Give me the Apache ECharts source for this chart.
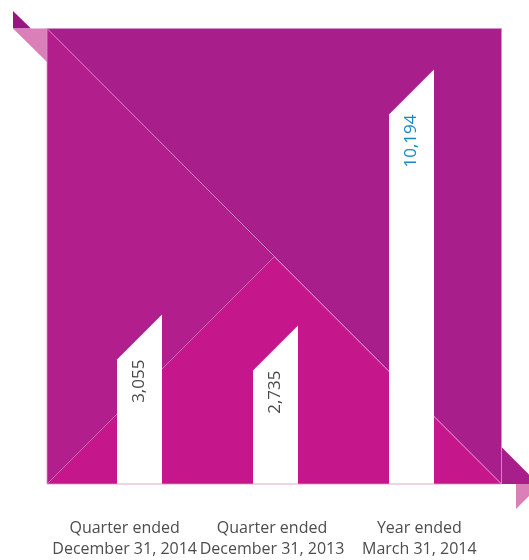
<!DOCTYPE html>
<html>
<head>
<meta charset="utf-8">
<script src="https://cdn.jsdelivr.net/npm/echarts@6/dist/echarts.min.js"></script>
<style>
html, body { margin: 0; padding: 0; background: #fff; }
#chart { width: 529px; height: 560px; }
</style>
</head>
<body>
<div id="chart"></div>
<script>
// data
var categories = ['Quarter ended\nDecember 31, 2014', 'Quarter ended\nDecember 31, 2013', 'Year ended\nMarch 31, 2014'];
var values = [3055, 2735, 10194];
var valueLabels = ['3,055', '2,735', '10,194'];

// square background bounds (px)
var L = 47, T = 28.5, R = 501.5, B = 484;
var edge = '#DC8EC3';

function renderBar(params, api) {
    var cs = params.coordSys;
    var pt = api.coord([api.value(0), api.value(1)]);
    var cx = pt[0];
    var hw = 22.5;
    var base = cs.y + cs.height;
    var leftTop = pt[1] + hw, rightTop = pt[1] - hw;
    var idx = params.dataIndex;
    return {
        type: 'group',
        children: [{
            type: 'polygon',
            shape: { points: [[cx - hw, base], [cx - hw, leftTop], [cx + hw, rightTop], [cx + hw, base]] },
            style: { fill: '#ffffff' }
        }, {
            type: 'text',
            x: cx,
            y: leftTop,
            rotation: Math.PI / 2,
            style: {
                text: valueLabels[idx],
                fill: idx === values.length - 1 ? '#1A86C5' : '#4a4a4a',
                font: '17px "Open Sans"',
                align: 'right',
                verticalAlign: 'middle'
            }
        }]
    };
}

var myChart = echarts.init(document.getElementById('chart'));
var option = {
    animation: false,
    graphic: [
        { type: 'polygon', z: 0, shape: { points: [[L, T], [R, T], [R, B]] }, style: { fill: '#A81E8B' } },
        { type: 'polygon', z: 0, shape: { points: [[L, T], [L, B], [R, B]] }, style: { fill: '#B21F8D' } },
        { type: 'polygon', z: 0, shape: { points: [[L, B], [(L + R) / 2, B - (R - L) / 2], [R, B]] }, style: { fill: '#C6168B' } },
        { type: 'line', z: 0, shape: { x1: L, y1: T, x2: R, y2: B }, style: { stroke: edge, lineWidth: 1, opacity: 0.7 } },
        { type: 'polyline', z: 0, shape: { points: [[L, B], [(L + R) / 2, B - (R - L) / 2], [R, B]] }, style: { stroke: edge, lineWidth: 1, opacity: 0.7, fill: null } },
        { type: 'polygon', z: 0, shape: { points: [[13, 11], [13, T], [31, T]] }, style: { fill: '#9A1581' } },
        { type: 'polygon', z: 0, shape: { points: [[13, T], [L, T], [L, 62]] }, style: { fill: '#DA7FB7' } },
        { type: 'polygon', z: 0, shape: { points: [[R, 447], [R + 37, B], [R, B]] }, style: { fill: '#A81E8B' } },
        { type: 'polygon', z: 0, shape: { points: [[516, B], [541, B], [516, 509]] }, style: { fill: '#DA7FB7' } },
        { type: 'rect', z: 10, shape: { x: L, y: T, width: R - L, height: B - T }, style: { stroke: edge, lineWidth: 1, fill: null, opacity: 0.8 } }
    ],
    grid: [
        { left: 51, width: 442, top: T, height: B - T },
        { left: 71.5, width: 408, top: T, height: B - T }
    ],
    xAxis: [{
        type: 'category',
        gridIndex: 0,
        data: categories,
        axisLine: { show: false },
        axisTick: { show: false },
        axisLabel: {
            interval: 0,
            margin: 35.5,
            color: '#4d4d4d',
            fontSize: 16,
            lineHeight: 21,
            fontFamily: 'Open Sans',
            align: 'center'
        }
    }, {
        type: 'category',
        gridIndex: 1,
        data: categories,
        show: false
    }],
    yAxis: [
        { type: 'value', gridIndex: 0, show: false, splitLine: { show: false } },
        { type: 'value', gridIndex: 1, min: -1225, max: 12044, show: false, splitLine: { show: false } }
    ],
    series: [{
        type: 'custom',
        xAxisIndex: 1,
        yAxisIndex: 1,
        z: 5,
        renderItem: renderBar,
        data: values.map(function (v, i) { return [i, v]; })
    }]
};
myChart.setOption(option);
</script>
</body>
</html>
